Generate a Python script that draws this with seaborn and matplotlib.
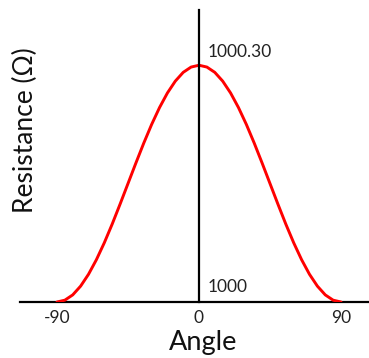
import matplotlib
matplotlib.use("Agg")
import matplotlib.pyplot as plt
import seaborn as sns
import pandas as pd

# Resistance of the sensor vs. tilt angle (5 degree steps)
angles = [-90, -85, -80, -75, -70, -65, -60, -55, -50, -45, -40, -35, -30,
          -25, -20, -15, -10, -5, 0, 5, 10, 15, 20, 25, 30, 35, 40, 45, 50,
          55, 60, 65, 70, 75, 80, 85, 90]
resistance = [1000.000, 1000.0023, 1000.0090, 1000.0201, 1000.0351, 1000.0536,
              1000.0750, 1000.0987, 1000.1240, 1000.1500, 1000.1760, 1000.2013,
              1000.2250, 1000.2464, 1000.2649, 1000.2799, 1000.2910, 1000.2977,
              1000.3000,
              1000.2977, 1000.2910, 1000.2799, 1000.2649, 1000.2464, 1000.2250,
              1000.2013, 1000.1760, 1000.1500, 1000.1240, 1000.0987, 1000.0750,
              1000.0536, 1000.0351, 1000.0201, 1000.0090, 1000.0023, 1000.000]
tick_positions = [-90, 0, 90]
tick_labels = ["-90", "0", "90"]

df = pd.DataFrame({"Angle": angles, "Resistance": resistance})

sns.set_theme(style="white")
plt.rcParams["font.family"] = ["Lato", "DejaVu Sans"]

W, H = 369, 358
fig = plt.figure(figsize=(W / 100, H / 100), dpi=100)
ax = fig.add_axes([20 / W, 56 / H, 349 / W, 292 / H])

sns.lineplot(data=df, x="Angle", y="Resistance", color="#ff0000",
             linewidth=2.1, ax=ax)

ax.set_xlim(-113.4, 107.7)
ax.set_ylim(1000.0, 1000.37)

# axes drawn as plain crossing lines: vertical one through angle 0
for side in ("top", "right"):
    ax.spines[side].set_visible(False)
ax.spines["left"].set_position(("data", 0))
for side in ("left", "bottom"):
    ax.spines[side].set_color("black")
    ax.spines[side].set_linewidth(1.6)
ax.spines["bottom"].set_zorder(1)

ax.set_xticks(tick_positions)
ax.set_xticklabels(tick_labels, fontsize=12.5, color="#222222")
ax.tick_params(axis="x", length=0, pad=6)
ax.set_yticks([])

peak = max(resistance)
base = min(resistance)
ax.annotate(f"{peak:.2f}", xy=(0, peak), xytext=(9, 5),
            textcoords="offset pixels", ha="left", va="bottom",
            fontsize=12.5, color="#222222")
ax.annotate(f"{base:.0f}", xy=(0, base), xytext=(9, 7),
            textcoords="offset pixels", ha="left", va="bottom",
            fontsize=12.5, color="#222222")

ax.set_xlabel("Angle", fontsize=19.5, color="#111111", va="center")
ax.xaxis.set_label_coords(0.524, -0.137)
ax.set_ylabel("Resistance (Ω)", fontsize=19, color="#111111", va="center")
ax.yaxis.set_label_coords(0.017, 0.589)

fig.savefig("out.png", dpi=100)
